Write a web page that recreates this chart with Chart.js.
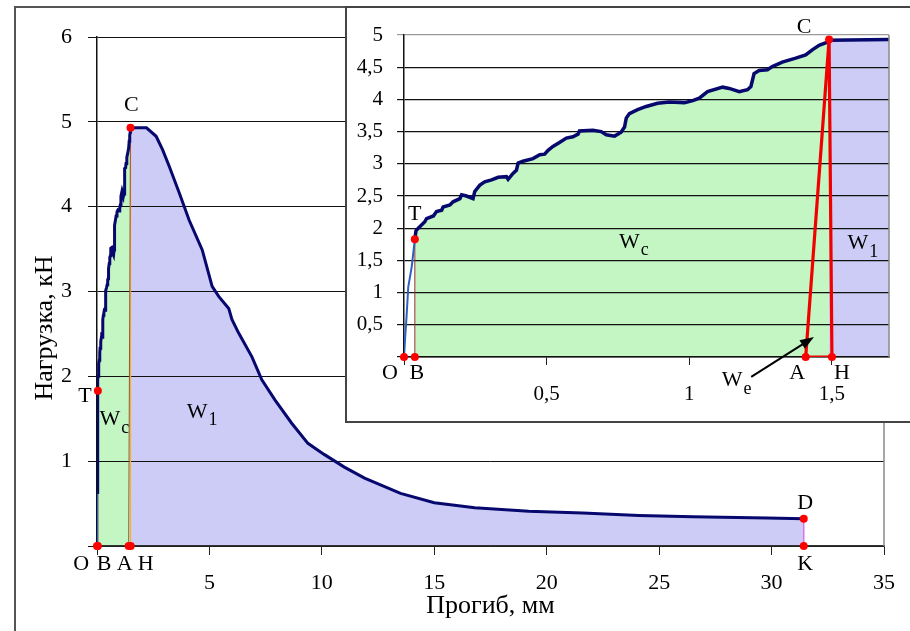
<!DOCTYPE html>
<html>
<head>
<meta charset="utf-8">
<script src="https://cdn.jsdelivr.net/npm/chart.js@4.4.0/dist/chart.umd.min.js"></script>
<style>
  html, body { margin: 0; padding: 0; background: #fff; overflow: hidden; }
  #frame { position: absolute; left: 14px; top: 6px; width: 1000px; height: 1000px; border-left: 2px solid #555; border-top: 2px solid #555; }
  #main { position: absolute; left: 0; top: 0; }
  #insetBox { position: absolute; left: 345px; top: 6px; width: 600px; height: 417px; box-sizing: border-box; border: 2px solid #444; background: #fff; }
  #inset { position: absolute; left: 0; top: 0; }
</style>
</head>
<body>
<div id="frame"></div>
<canvas id="main" width="910" height="631"></canvas>
<div id="insetBox"><canvas id="inset" width="566" height="413"></canvas></div>
<script>
// loading branch O - T - C  (deflection, mm / load, kN)
const riseX = [0, 0.004, 0.009, 0.015, 0.027, 0.038, 0.042, 0.050, 0.073, 0.079, 0.103, 0.114, 0.132, 0.137,
  0.161, 0.172, 0.196, 0.202, 0.219, 0.242, 0.248, 0.266, 0.283, 0.307, 0.330, 0.359, 0.365, 0.382, 0.394,
  0.400, 0.417, 0.452, 0.476, 0.493, 0.505, 0.522, 0.545, 0.569, 0.592, 0.610, 0.615, 0.662, 0.691, 0.709,
  0.738, 0.761, 0.773, 0.779, 0.790, 0.819, 0.849, 0.889, 0.930, 0.983, 1.012, 1.035, 1.064, 1.117, 1.140,
  1.175, 1.204, 1.216, 1.227, 1.245, 1.274, 1.291, 1.326, 1.373, 1.408, 1.431, 1.455, 1.479, 1.490]
const riseY = [0, 0.30, 0.63, 1.09, 1.40, 1.83, 1.96, 2.00, 2.10, 2.15, 2.19, 2.26, 2.28, 2.33,
  2.36, 2.41, 2.46, 2.52, 2.50, 2.46, 2.57, 2.67, 2.72, 2.75, 2.79, 2.80, 2.76, 2.85, 2.90,
  3.01, 3.04, 3.08, 3.14, 3.15, 3.21, 3.27, 3.33, 3.40, 3.42, 3.46, 3.51, 3.52, 3.50, 3.45,
  3.43, 3.49, 3.57, 3.71, 3.78, 3.84, 3.89, 3.94, 3.96, 3.95, 3.98, 4.02, 4.12, 4.19, 4.17,
  4.12, 4.15, 4.20, 4.40, 4.45, 4.46, 4.51, 4.58, 4.64, 4.69, 4.77, 4.84, 4.88, 4.92]

// post-peak branch C - D
const fallX = [1.7, 2.2, 2.63, 2.92, 3.22, 3.66, 4.1, 4.68, 5.12, 5.42, 5.86, 6.0, 6.3, 6.89, 7.33, 7.92,
  8.65, 9.38, 10.1, 11.0, 11.9, 13.5, 15.0, 16.8, 19.2, 21.6, 24.1, 26.5, 29.8, 31.43]
const fallY = [4.93, 4.93, 4.83, 4.67, 4.47, 4.16, 3.84, 3.49, 3.06, 2.94, 2.80, 2.67, 2.51, 2.23, 1.96, 1.72,
  1.45, 1.21, 1.08, 0.93, 0.80, 0.62, 0.51, 0.45, 0.41, 0.39, 0.36, 0.345, 0.33, 0.32]

// characteristic points
const ptO = [0, 0]
const ptB = [0.038, 0]
const ptT = [0.038, 1.83]
const ptA = [1.408, 0]
const ptH = [1.5, 0]
const ptC = [1.49, 4.93]
const ptD = [31.43, 0.32]
const ptK = [31.43, 0]

// tick values
const mainXTicks = [0, 5, 10, 15, 20, 25, 30, 35]
const mainYTicks = [0, 1, 2, 3, 4, 5, 6]
const insetXTicks = [0, 0.5, 1, 1.5]
const insetYTicks = [0, 0.5, 1, 1.5, 2, 2.5, 3, 3.5, 4, 4.5, 5]

// point labels (data coordinates)
const mainLabels = [
  {t: 'C', x: 1.53, y: 5.19}, {t: 'T', x: -0.53, y: 1.76},
  {t: 'W', sub: 'c', x: 0.57, y: 1.49}, {t: 'W', sub: '1', x: 4.45, y: 1.58},
  {t: 'O', x: -0.70, y: -0.21}, {t: 'B', x: 0.31, y: -0.21}, {t: 'A', x: 1.23, y: -0.21}, {t: 'H', x: 2.16, y: -0.21},
  {t: 'D', x: 31.5, y: 0.51}, {t: 'K', x: 31.5, y: -0.22},
]
const insetLabels = [
  {t: 'C', x: 1.402, y: 5.12}, {t: 'T', x: 0.038, y: 2.22},
  {t: 'O', x: -0.049, y: -0.25}, {t: 'B', x: 0.045, y: -0.25},
  {t: 'A', x: 1.378, y: -0.25}, {t: 'H', x: 1.535, y: -0.25},
  {t: 'W', sub: 'c', x: 0.79, y: 1.79}, {t: 'W', sub: '1', x: 1.591, y: 1.77},
  {t: 'W', sub: 'e', x: 1.15, y: -0.36},
]
const weArrowFrom = [1.217, -0.31]
const weArrowTo = [1.437, 0.31]

const SERIF = '"Liberation Serif", "Times New Roman", serif'
const fmt = v => String(v).replace('.', ',')
const xy = (xs, ys) => xs.map((x, i) => ({x: x, y: ys[i]}))
const pt = p => ({x: p[0], y: p[1]})

const curve = xy(riseX, riseY).concat(xy(fallX, fallY))
const greenPart = xy(riseX, riseY).filter(p => p.x >= ptB[0])
const bluePart = [{x: riseX[riseX.length - 1], y: riseY[riseY.length - 1]}].concat(xy(fallX, fallY))

const decor = {
  id: 'decor',
  afterDatasetsDraw(chart, args, opts) {
    const {ctx, chartArea, scales: {x, y}} = chart
    ctx.save()
    // right border of the plot area
    ctx.strokeStyle = '#8a8a8a'
    ctx.lineWidth = 1.5
    ctx.beginPath()
    ctx.moveTo(chartArea.right, chartArea.top)
    ctx.lineTo(chartArea.right, chartArea.bottom)
    ctx.stroke()

    if (opts.arrow) {
      const x0 = x.getPixelForValue(opts.arrow[0][0]), y0 = y.getPixelForValue(opts.arrow[0][1])
      const x1 = x.getPixelForValue(opts.arrow[1][0]), y1 = y.getPixelForValue(opts.arrow[1][1])
      const a = Math.atan2(y1 - y0, x1 - x0)
      ctx.strokeStyle = '#000'
      ctx.fillStyle = '#000'
      ctx.lineWidth = 2
      ctx.beginPath()
      ctx.moveTo(x0, y0)
      ctx.lineTo(x1 - 8 * Math.cos(a), y1 - 8 * Math.sin(a))
      ctx.stroke()
      ctx.beginPath()
      ctx.moveTo(x1, y1)
      ctx.lineTo(x1 - 14 * Math.cos(a) + 5 * Math.sin(a), y1 - 14 * Math.sin(a) - 5 * Math.cos(a))
      ctx.lineTo(x1 - 14 * Math.cos(a) - 5 * Math.sin(a), y1 - 14 * Math.sin(a) + 5 * Math.cos(a))
      ctx.closePath()
      ctx.fill()
    }

    ctx.fillStyle = '#000'
    ctx.textBaseline = 'middle'
    ctx.textAlign = 'center'
    // y axis title, placed a little below the middle like in the original
    if (opts.yTitle) {
      ctx.save()
      ctx.font = opts.yTitle.size + 'px ' + SERIF
      ctx.translate(y.left + 28, y.getPixelForValue(opts.yTitle.at))
      ctx.rotate(-Math.PI / 2)
      ctx.fillText(opts.yTitle.text, 0, 0)
      ctx.restore()
    }
    opts.items.forEach(l => {
      const px = x.getPixelForValue(l.x), py = y.getPixelForValue(l.y)
      ctx.font = opts.size + 'px ' + SERIF
      ctx.fillText(l.t, px, py)
      if (l.sub) {
        const w = ctx.measureText(l.t).width
        ctx.font = Math.round(opts.size * 0.8) + 'px ' + SERIF
        ctx.textAlign = 'left'
        ctx.fillText(l.sub, px + w / 2 + 1, py + opts.size * 0.4)
        ctx.textAlign = 'center'
      }
    })
    ctx.restore()
  }
}

function datasets(thinTo, mainView) {
  const sets = [
    {
      data: curve, borderColor: '#07086e', borderWidth: mainView ? 3 : 3.5, pointRadius: 0, fill: false, order: 2,
      segment: {
        borderWidth: c => c.p1.parsed.x <= thinTo[0] && c.p1.parsed.y <= thinTo[1] ? 2 : undefined,
        borderColor: c => c.p1.parsed.x <= thinTo[0] && c.p1.parsed.y <= thinTo[1] ? '#2a62c0' : undefined,
      }
    },
    {data: greenPart, borderWidth: 0, borderColor: 'transparent', backgroundColor: '#c3f6c3', pointRadius: 0, fill: 'origin', order: 10},
    {data: bluePart, borderWidth: 0, borderColor: 'transparent', backgroundColor: '#ccccf6', pointRadius: 0, fill: 'origin', order: 10},
    {data: [pt(ptB), pt(ptT)], borderColor: '#9a3030', borderWidth: 1, pointRadius: 0, order: 3},
  ]
  if (mainView) {
    sets.push({data: [pt(ptA), pt(ptC)], borderColor: '#a0522d', borderWidth: 1, pointRadius: 0, order: 3})
    sets.push({data: [pt(ptH), pt(ptC)], borderColor: '#f2b430', borderWidth: 1.2, pointRadius: 0, order: 3})
    sets.push({data: [pt(ptD), pt(ptK)], borderColor: '#e070e0', borderWidth: 1.5, pointRadius: 0, order: 3})
    sets.push({data: [ptO, ptB, ptT, ptA, ptH, ptC, ptD, ptK].map(pt), showLine: false, pointRadius: 4,
      pointBackgroundColor: '#ff0000', pointBorderWidth: 0, clip: false, order: 0})
  } else {
    sets.push({data: [pt(ptA), pt(ptC), pt(ptH), pt(ptA)], borderColor: '#f00000', borderWidth: 3.2, pointRadius: 0,
      borderJoinStyle: 'round', order: 1})
    sets.push({data: [ptO, ptB, ptT, ptA, ptH, ptC].map(pt), showLine: false, pointRadius: 4,
      pointBackgroundColor: '#ff0000', pointBorderWidth: 0, clip: false, order: 0})
  }
  return sets
}

const ctxMain = document.getElementById('main')
if (ctxMain) {
  const mainChart = {
    type: 'line',
    data: {datasets: datasets([0.01, 0.95], true)},
    options: {
      responsive: false,
      animation: false,
      layout: {padding: {left: 17, top: 37, right: 18, bottom: 0}},
      plugins: {
        legend: {display: false},
        tooltip: {enabled: false},
        filler: {drawTime: 'beforeDraw'},
        decor: {items: mainLabels, size: 22, yTitle: {text: 'Нагрузка, кН', at: 2.57, size: 26}},
      },
      scales: {
        x: {
          type: 'linear', min: 0, max: 35,
          afterBuildTicks: s => { s.ticks = mainXTicks.map(v => ({value: v})) },
          afterFit: s => { s.height = 85 },
          ticks: {callback: v => v === 0 ? '' : fmt(v), color: '#000', font: {family: SERIF, size: 22}, padding: 15, maxRotation: 0},
          grid: {drawOnChartArea: false, tickLength: 9, color: '#222'},
          border: {color: '#333', width: 1.5},
          title: {display: true, text: 'Прогиб, мм', color: '#000', font: {family: SERIF, size: 26}, padding: {top: 0, bottom: 9}},
        },
        y: {
          min: 0, max: 6,
          afterBuildTicks: s => { s.ticks = mainYTicks.map(v => ({value: v})) },
          afterFit: s => { s.width = 80 },
          ticks: {callback: v => v === 0 ? '' : fmt(v), color: '#000', font: {family: SERIF, size: 22}, padding: 16},
          grid: {color: '#111', lineWidth: 1, tickLength: 9},
          border: {color: '#111', width: 1.5},
        },
      },
    },
    plugins: [decor],
  }
  window.mainChart = new Chart(ctxMain, mainChart)
}

const ctxInset = document.getElementById('inset')
if (ctxInset) {
  const insetChart = {
    type: 'line',
    data: {datasets: datasets([ptT[0], ptT[1]], false)},
    options: {
      responsive: false,
      animation: false,
      layout: {padding: {left: 0, top: 27, right: 24, bottom: 0}},
      plugins: {
        legend: {display: false},
        tooltip: {enabled: false},
        filler: {drawTime: 'beforeDraw'},
        decor: {items: insetLabels, size: 22, arrow: [weArrowFrom, weArrowTo]},
      },
      scales: {
        x: {
          type: 'linear', min: 0, max: 1.7,
          afterBuildTicks: s => { s.ticks = insetXTicks.map(v => ({value: v})) },
          afterFit: s => { s.height = 64 },
          ticks: {callback: v => v === 0 ? '' : fmt(v), color: '#000', font: {family: SERIF, size: 21}, padding: 17, maxRotation: 0},
          grid: {drawOnChartArea: false, tickLength: 8, color: '#222'},
          border: {color: '#111', width: 1.5},
        },
        y: {
          min: 0, max: 5,
          afterBuildTicks: s => { s.ticks = insetYTicks.map(v => ({value: v})) },
          afterFit: s => { s.width = 57 },
          ticks: {callback: v => v === 0 ? '' : fmt(v), color: '#000', font: {family: SERIF, size: 21}, padding: 14},
          grid: {color: c => c.tick && c.tick.value === 5 ? '#9a9a9a' : '#111', lineWidth: 1.2, tickLength: 7},
          border: {color: '#111', width: 1.5},
        },
      },
    },
    plugins: [decor],
  }
  window.insetChart = new Chart(ctxInset, insetChart)
}
</script>
</body>
</html>
